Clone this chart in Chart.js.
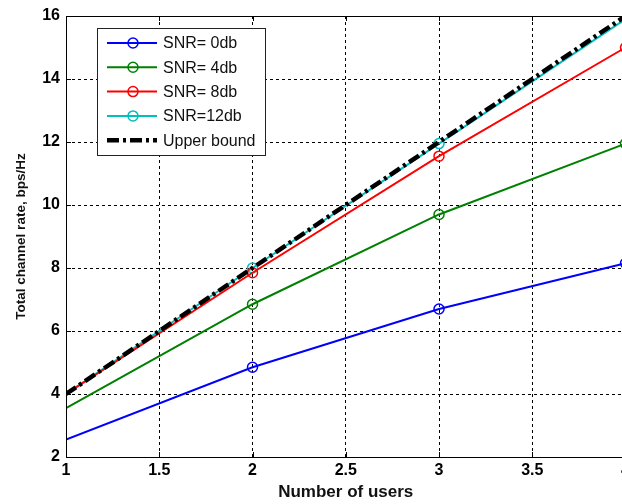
<!DOCTYPE html>
<html>
<head>
<meta charset="utf-8">
<script src="https://cdn.jsdelivr.net/npm/chart.js@4.4.1/dist/chart.umd.min.js"></script>
<style>
  html, body { margin: 0; padding: 0; background: #fff; overflow: hidden; }
  #wrap { width: 622px; height: 504px; overflow: hidden; }
</style>
</head>
<body>
<div id="wrap"><canvas id="rateChart" width="632" height="504"></canvas></div>
<script>
// values
const users = [1, 2, 3, 4]
const snr0 = [2.55, 4.85, 6.7, 8.15]
const snr4 = [3.55, 6.85, 9.7, 11.95]
const snr8 = [4.0, 7.85, 11.55, 15.0]
const snr12 = [4.0, 8.0, 11.95, 15.9]
const upperBound = [4, 8, 12, 16]
const seriesNames = ["SNR= 0db", "SNR= 4db", "SNR= 8db", "SNR=12db", "Upper bound"]
const xTicks = [1, 1.5, 2, 2.5, 3, 3.5, 4]
const yTicks = [2, 4, 6, 8, 10, 12, 14, 16]

const tickFont = { family: "'Liberation Sans Narrow', 'Liberation Sans', Arial, sans-serif", size: 16, weight: "bold" }

function toPoints(values) {
  return users.map((u, i) => ({ x: u, y: values[i] }))
}

function snrDataset(label, values, color) {
  return {
    label: label,
    data: toPoints(values),
    borderColor: color,
    backgroundColor: "rgba(0,0,0,0)",
    borderWidth: 2,
    pointRadius: [0, 5, 5, 5],
    pointBorderWidth: 1.5,
    pointBorderColor: color,
    pointBackgroundColor: "rgba(0,0,0,0)",
    tension: 0,
  }
}

// frame, inward tick marks and the legend box drawn the MATLAB way
const matlabFrame = {
  id: "matlabFrame",
  afterDatasetsDraw(chart) {
    const { ctx, chartArea: a, scales } = chart
    ctx.save()
    ctx.strokeStyle = "#000"
    ctx.lineWidth = 1
    ctx.setLineDash([])
    ctx.beginPath()
    xTicks.forEach((t) => {
      const px = Math.round(scales.x.getPixelForValue(t)) + 0.5
      ctx.moveTo(px, a.top); ctx.lineTo(px, a.top + 5)
      ctx.moveTo(px, a.bottom); ctx.lineTo(px, a.bottom - 5)
    })
    yTicks.forEach((t) => {
      const py = Math.round(scales.y.getPixelForValue(t)) + 0.5
      ctx.moveTo(a.left, py); ctx.lineTo(a.left + 5, py)
    })
    ctx.stroke()
    ctx.strokeRect(Math.round(a.left) + 0.5, Math.round(a.top) + 0.5, a.right - a.left + 4, a.bottom - a.top)
    ctx.restore()
  },
  afterDraw(chart) {
    const { ctx } = chart
    const box = { x: 97.5, y: 28.5, w: 168, h: 127 }
    ctx.save()
    ctx.fillStyle = "#fff"
    ctx.fillRect(box.x, box.y, box.w, box.h)
    ctx.strokeStyle = "#222"
    ctx.lineWidth = 1
    ctx.strokeRect(box.x, box.y, box.w, box.h)
    ctx.font = "16px 'Liberation Sans', Arial, sans-serif"
    ctx.textBaseline = "middle"
    chart.data.datasets.forEach((ds, i) => {
      const y = 43 + i * 24.3
      ctx.strokeStyle = ds.borderColor
      ctx.lineWidth = ds.borderWidth
      ctx.setLineDash(ds.borderDash || [])
      ctx.beginPath()
      ctx.moveTo(107, y)
      ctx.lineTo(157, y)
      ctx.stroke()
      ctx.setLineDash([])
      if (i < 4) {
        ctx.lineWidth = 1.5
        ctx.beginPath()
        ctx.arc(133, y, 5, 0, Math.PI * 2)
        ctx.stroke()
      }
      ctx.fillStyle = "#111"
      ctx.fillText(ds.label, 163, y + 1)
    })
    ctx.restore()
  },
}

new Chart(document.getElementById("rateChart"), {
  type: "line",
  data: {
    datasets: [
      snrDataset(seriesNames[0], snr0, "#0000ff"),
      snrDataset(seriesNames[1], snr4, "#008000"),
      snrDataset(seriesNames[2], snr8, "#ff0000"),
      snrDataset(seriesNames[3], snr12, "#00bfbf"),
      {
        label: seriesNames[4],
        data: toPoints(upperBound),
        borderColor: "#000",
        borderWidth: 4.5,
        borderDash: [12, 4, 3, 4],
        pointRadius: 0,
        tension: 0,
        order: -1,
      },
    ],
  },
  options: {
    responsive: false,
    animation: false,
    layout: { padding: { top: 16, right: 0, bottom: 0, left: 0 } },
    plugins: {
      legend: { display: false },
      tooltip: { enabled: false },
    },
    scales: {
      x: {
        type: "linear",
        min: 1,
        max: 4,
        afterBuildTicks: (scale) => { scale.ticks = xTicks.map((v) => ({ value: v })) },
        afterFit: (scale) => { scale.height = 47; scale.paddingLeft = 0; scale.paddingRight = 0 },
        ticks: { color: "#000", font: tickFont, padding: 4, maxRotation: 0, autoSkip: false, callback: (v) => String(v) },
        grid: { color: "#000", drawTicks: false, lineWidth: 1 },
        border: { display: false, dash: [3, 3] },
        title: {
          display: true,
          text: "Number of users",
          color: "#111",
          font: { family: "'Liberation Sans', Arial, sans-serif", size: 17, weight: "bold" },
          padding: { top: 0, bottom: 1 },
        },
      },
      y: {
        type: "linear",
        min: 2,
        max: 16,
        afterBuildTicks: (scale) => { scale.ticks = yTicks.map((v) => ({ value: v })) },
        afterFit: (scale) => { scale.width = 66; scale.paddingTop = 0; scale.paddingBottom = 0 },
        ticks: { color: "#000", font: tickFont, padding: 6, callback: (v) => String(v) },
        grid: { color: "#000", drawTicks: false, lineWidth: 1 },
        border: { display: false, dash: [3, 3] },
        title: {
          display: true,
          text: "Total channel rate, bps/Hz",
          color: "#111",
          font: { family: "'Liberation Sans', Arial, sans-serif", size: 13.5, weight: "bold" },
          padding: { top: 13, bottom: 0 },
        },
      },
    },
  },
  plugins: [matlabFrame],
})
</script>
</body>
</html>
